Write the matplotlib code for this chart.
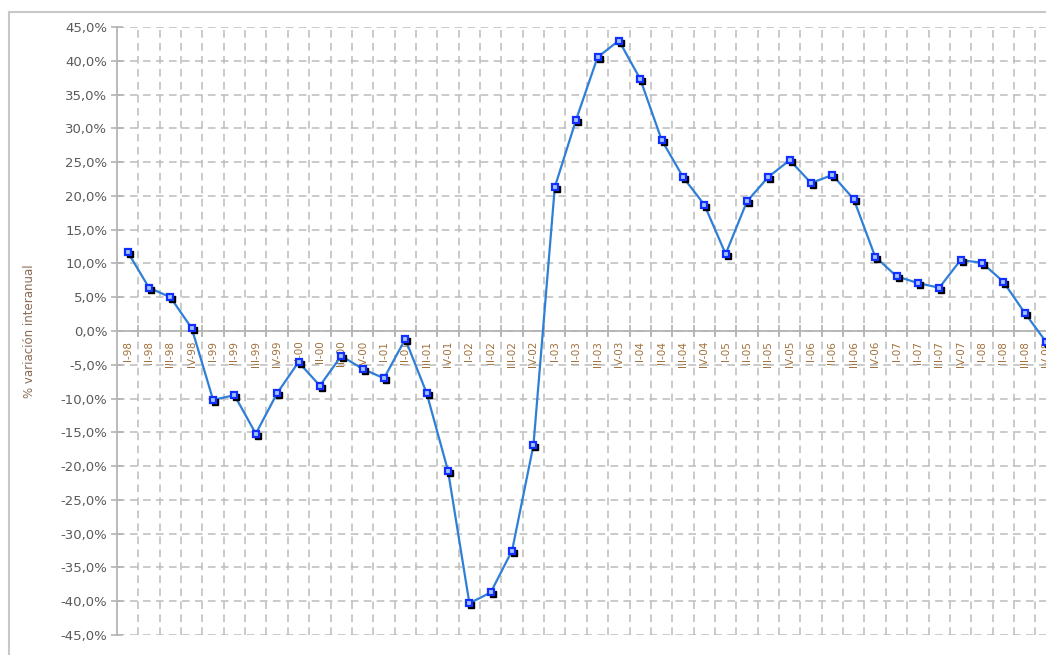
import numpy as np
import matplotlib
matplotlib.use("Agg")
import matplotlib.pyplot as plt
from matplotlib.lines import Line2D
from matplotlib.ticker import FixedLocator, FuncFormatter
import matplotlib.transforms as mtransforms

# trimestres I-98 ... IV-08
trimestres = ["I", "II", "III", "IV"]
anios = ["98", "99", "00", "01", "02", "03", "04", "05", "06", "07", "08"]
etiquetas = [f"{t}-{a}" for a in anios for t in trimestres]

# % variación interanual
variacion = [11.7, 6.4, 5.0, 0.4,
             -10.2, -9.5, -15.2, -9.2,
             -4.6, -8.1, -3.7, -5.6,
             -7.0, -1.2, -9.2, -20.7,
             -40.3, -38.7, -32.5, -16.9,
             21.3, 31.3, 40.5, 43.0,
             37.3, 28.3, 22.8, 18.7,
             11.4, 19.2, 22.8, 25.3,
             21.9, 23.1, 19.5, 11.0,
             8.1, 7.1, 6.4, 10.5,
             10.1, 7.3, 2.7, -1.6]

W, H = 1046, 655
fig = plt.figure(figsize=(W / 100, H / 100), dpi=100)
ax = fig.add_axes([117 / W, 1 - 635 / H, (1046 - 117) / W, (635 - 27) / H])

# marco exterior del gráfico
gris_marco = "#c8c8c8"
fig.add_artist(Line2D([9 / W, 9 / W], [0, 1 - 12 / H], transform=fig.transFigure,
                      color=gris_marco, lw=1.5))
fig.add_artist(Line2D([9 / W, 1], [1 - 12 / H, 1 - 12 / H], transform=fig.transFigure,
                      color=gris_marco, lw=1.5))

x = np.arange(len(etiquetas))
ax.set_xlim(-0.5, len(etiquetas) - 1)
ax.set_ylim(-45, 45)

# rejilla discontinua
gris = "#bcbcbc"
ax.set_yticks(np.arange(-45, 46, 5))
ax.xaxis.set_minor_locator(FixedLocator(x[:-1] + 0.5))
ax.grid(True, axis="y", which="major", color=gris, lw=1.1, ls=(0, (5, 3.5)))
ax.grid(True, axis="x", which="minor", color=gris, lw=1.1, ls=(0, (5, 3.5)))
ax.set_axisbelow(True)

for s in ["top", "right"]:
    ax.spines[s].set_visible(False)
ax.spines["left"].set_color("#b4b4b4")
ax.spines["left"].set_linewidth(1.3)
ax.spines["bottom"].set_position(("data", 0))
ax.spines["bottom"].set_color("#b4b4b4")
ax.spines["bottom"].set_linewidth(1.3)

ax.yaxis.set_major_formatter(FuncFormatter(lambda v, p: f"{v:.1f}%".replace(".", ",")))
ax.tick_params(axis="y", direction="inout", length=8, width=1.2, color="#b4b4b4",
               labelsize=9.5, labelcolor="#5a5a5a", pad=3)

ax.set_xticks(x)
ax.set_xticklabels(etiquetas, rotation=90, va="top", ha="center")
ax.tick_params(axis="x", which="major", length=0, labelsize=7.5,
               labelcolor="#a0703c", pad=7)
ax.tick_params(axis="x", which="minor", direction="inout", length=8, width=1.2,
               color="#b4b4b4")

ax.set_ylabel("% variación interanual", fontsize=8.5, color="#8a6a55")
ax.yaxis.set_label_coords(-(117 - 36) / (1046 - 117), 0.5)

# serie: línea, sombra de marcadores y marcadores
sombra = mtransforms.offset_copy(ax.transData, fig=fig, x=2, y=-2, units="dots")
ax.plot(x, variacion, color="#2f7fd8", lw=1.6, zorder=3, clip_on=False)
ax.plot(x, variacion, ls="none", marker="s", ms=4.8, mfc="black", mec="black",
        transform=sombra, zorder=4, clip_on=False)
ax.plot(x, variacion, ls="none", marker="s", ms=4.8, mfc="#a8c4ff", mec="#1030ff",
        mew=1.6, zorder=5, clip_on=False)

fig.savefig("out.png", dpi=100)
